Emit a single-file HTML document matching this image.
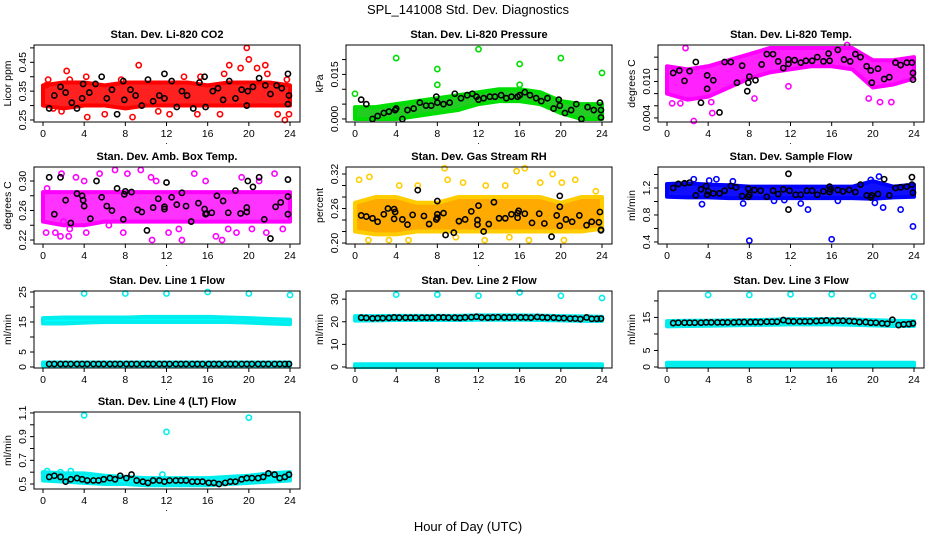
<!DOCTYPE html>
<html><head><meta charset="utf-8">
<style>
html,body{margin:0;padding:0;background:#fff;}
svg{display:block;font-family:"Liberation Sans",sans-serif;}
</style></head>
<body>
<svg id="chart" width="936" height="540" viewBox="0 0 936 540" xmlns="http://www.w3.org/2000/svg">
<rect x="0" y="0" width="936" height="540" fill="#fff"/>
<text x="468" y="14" font-size="13" text-anchor="middle">SPL_141008  Std. Dev. Diagnostics</text>
<text x="468" y="531" font-size="13" text-anchor="middle">Hour of Day (UTC)</text>
</svg>
<script>
const bandHours=[0,2,4,6,8,10,12,14,16,18,20,22,24];
const regT=[0.6,1.1,1.7,2.2,2.7,3.3,3.8,4.3,4.9,5.4,5.9,6.5,7.0,7.5,8.1,8.6,9.1,9.7,10.2,10.7,11.3,11.8,12.3,12.9,13.4,13.9,14.5,15.0,15.5,16.1,16.6,17.1,17.7,18.2,18.7,19.3,19.8,20.3,20.9,21.4,21.9,22.5,23.0,23.5,23.9];
const xTicks=[0,4,8,12,16,20,24];

// P1 CO2
const p1Lo=[0.30,0.29,0.30,0.30,0.29,0.30,0.30,0.30,0.30,0.30,0.30,0.30,0.30];
const p1Hi=[0.37,0.38,0.38,0.37,0.38,0.38,0.38,0.38,0.37,0.38,0.38,0.38,0.37];
const p1OutX=[0.3,0.5,1,1.8,2.3,2.6,4.2,4.3,6,7.6,8.7,9.3,11.2,12.3,13.7,15,15.3,17.2,17.6,18.1,19.2,19.8,20,20.8,21.6,21.8,22.8,23.5,23.9,23.7];
const p1OutY=[0.37,0.39,0.29,0.28,0.42,0.39,0.40,0.26,0.27,0.39,0.26,0.44,0.28,0.27,0.40,0.27,0.40,0.27,0.41,0.44,0.43,0.50,0.46,0.43,0.44,0.41,0.27,0.25,0.27,0.39];
const p1BlkX=[0.6,1.1,1.7,2.2,2.8,3.3,3.8,3.9,4.5,5.1,5.7,6.2,6.7,7.2,7.8,7.9,8.5,9.0,9.6,10.2,10.7,11.3,11.8,11.8,12.5,13,13.5,14,14.6,15.2,15.7,15.8,16.5,17,17.5,18.1,18.7,19.3,19.8,19.9,20.4,21,21.6,22.1,22.7,23.2,23.8,23.9,23.8];
const p1BlkY=[0.29,0.335,0.365,0.345,0.31,0.29,0.325,0.375,0.345,0.375,0.40,0.325,0.355,0.27,0.385,0.32,0.355,0.335,0.30,0.39,0.315,0.335,0.41,0.325,0.385,0.295,0.35,0.335,0.29,0.38,0.40,0.295,0.35,0.36,0.32,0.385,0.325,0.355,0.30,0.35,0.365,0.395,0.37,0.34,0.37,0.36,0.41,0.335,0.305];

// P2 Pressure
const p2Lo=[0.0,0.0,0.0,0.001,0.002,0.003,0.005,0.006,0.006,0.005,0.002,0.0,0.0];
const p2Hi=[0.004,0.004,0.005,0.006,0.007,0.008,0.009,0.010,0.010,0.009,0.006,0.005,0.005];
const p2OutX=[0,4,8,8,12,16,16,20,24];
const p2OutY=[0.0085,0.0205,0.0168,0.0115,0.0235,0.0185,0.0115,0.0205,0.0155];
const p2BlkX=[0.6,1.1,1.7,2.2,2.8,3.3,3.9,4,4.6,5.1,5.7,6.3,6.9,7.4,7.9,8,8.6,9.2,9.7,10.3,10.9,11.4,11.8,12,12.5,13.1,13.6,14.2,14.7,15.2,15.8,16,16.5,17,17.6,18.1,18.7,19.3,19.8,19.9,20.4,21,21.5,22,22.6,23.2,23.8,23.9,23.9];
const p2BlkY=[0.0065,0.005,0,0.001,0.002,0.0025,0.003,0.0035,0,0.003,0.0035,0.0055,0.0045,0.0045,0.0075,0.0055,0.005,0.0055,0.0085,0.007,0.008,0.0085,0.0075,0.0065,0.007,0.0075,0.0075,0.008,0.007,0.0075,0.0075,0.008,0.009,0.008,0.007,0.006,0.007,0.0035,0.0065,0.0045,0.002,0.003,0.005,0,0.004,0.003,0.0055,0.003,0.0005];

// P3 Li-820 Temp
const p3Lo=[0.008,0.007,0.0075,0.009,0.0105,0.0115,0.012,0.0125,0.0125,0.012,0.009,0.0095,0.0105];
const p3Hi=[0.0125,0.012,0.0125,0.0135,0.0145,0.0155,0.0155,0.0155,0.0155,0.0155,0.0135,0.0135,0.014];
const p3OutX=[0.5,1.3,1.8,2.6,4.3,4.4,8.5,11.8,19.6,20.7,21.8,17.5];
const p3OutY=[0.0064,0.0064,0.0155,0.0035,0.0066,0.0048,0.0072,0.0092,0.0072,0.0066,0.0066,0.016];
const p3BlkX=[0.6,1.2,1.7,2.2,2.8,3.3,3.9,3.9,4.5,5.1,5.6,6.2,6.8,7.3,7.8,7.9,8.0,8.6,9.2,9.7,10.3,10.8,11.3,11.8,11.8,12.4,13,13.5,14.1,14.6,15.2,15.7,15.8,16.6,17.2,17.8,18.3,18.8,19.4,19.8,19.9,20.5,21.1,21.6,22.2,22.7,23.3,23.8,23.9,23.9];
const p3BlkY=[0.0114,0.0118,0.0101,0.0117,0.0132,0.0065,0.0088,0.011,0.0102,0.0049,0.0132,0.0132,0.0098,0.0126,0.0084,0.0098,0.0108,0.0102,0.0128,0.0145,0.0145,0.0133,0.0122,0.0136,0.0129,0.0135,0.0131,0.0134,0.0134,0.014,0.0133,0.0146,0.0134,0.0152,0.0136,0.0133,0.0145,0.014,0.0125,0.0118,0.0098,0.0121,0.0104,0.0107,0.0131,0.0127,0.0131,0.0131,0.0114,0.0103];

// P4 Amb Box Temp
const p4Lo=[0.245,0.24,0.24,0.245,0.245,0.245,0.245,0.245,0.245,0.245,0.245,0.245,0.245];
const p4Hi=[0.285,0.285,0.285,0.285,0.285,0.285,0.285,0.285,0.285,0.285,0.285,0.285,0.285];
const p4OutX=[0.3,1.2,1.7,2.5,2.6,3.2,4.2,5.5,6.4,7.0,7.8,9.5,10.6,10.5,12.2,13.5,14.7,15.8,16.8,17.4,18.0,19.3,20.3,21.7,22.5,23.3,1.8,8.2,0.4,11.0,2.0,13.2,18.8,4.0,21.0];
const p4OutY=[0.23,0.23,0.225,0.225,0.235,0.305,0.23,0.31,0.24,0.315,0.23,0.315,0.22,0.305,0.23,0.22,0.31,0.30,0.225,0.22,0.235,0.305,0.235,0.23,0.31,0.235,0.31,0.31,0.29,0.30,0.245,0.235,0.23,0.30,0.30];
const p4BlkX=[0.6,1.1,1.7,2.2,2.7,3.3,3.8,3.9,4.0,4.6,5.2,5.7,6.2,6.7,7.2,7.8,7.9,8.0,8.6,9.2,9.6,10.1,10.7,11.2,11.8,11.8,12.0,12.5,13,13.5,13.9,14.4,15.1,15.7,15.8,15.9,16.4,16.9,17.5,18.0,18.7,19.2,19.8,19.8,19.9,20.4,21.0,21.5,22.1,22.6,23.1,23.8,23.8,23.8];
const p4BlkY=[0.305,0.255,0.305,0.274,0.243,0.283,0.28,0.274,0.266,0.249,0.30,0.278,0.266,0.26,0.29,0.248,0.282,0.286,0.285,0.261,0.258,0.233,0.264,0.276,0.262,0.265,0.298,0.278,0.268,0.284,0.266,0.245,0.27,0.262,0.255,0.256,0.257,0.28,0.273,0.257,0.287,0.256,0.258,0.264,0.30,0.292,0.305,0.248,0.222,0.265,0.271,0.302,0.279,0.255];

// P5 Gas Stream RH
const p5Lo=[0.22,0.215,0.215,0.22,0.22,0.22,0.22,0.22,0.22,0.22,0.22,0.22,0.225];
const p5Hi=[0.27,0.28,0.28,0.27,0.27,0.28,0.28,0.28,0.28,0.28,0.27,0.28,0.28];
const p5OutX=[0.4,1.4,4.3,6.1,8.7,9.0,10.5,12.7,14.6,15.7,16.5,18.0,19.2,20.1,21.4,23.4,1.3,3.3,5.2,9.8,12.6,16.9,20.3,15.0];
const p5OutY=[0.31,0.315,0.30,0.30,0.33,0.31,0.305,0.30,0.30,0.325,0.33,0.305,0.32,0.305,0.31,0.29,0.205,0.205,0.205,0.21,0.205,0.205,0.205,0.21];
const p5BlkX=[0.6,1.1,1.7,2.2,2.8,3.2,3.8,3.8,3.9,4.6,5.1,5.6,6.1,6.7,7.2,7.9,8.0,8.0,8.0,8.6,8.8,9.6,10.1,10.7,11.3,11.9,11.9,12.0,12.5,13.0,13.5,14.0,14.6,15.2,15.8,15.8,15.9,16.5,17.2,17.9,18.4,19.1,19.6,19.9,19.9,19.9,20.5,21.1,21.8,22.5,23.0,23.7,23.8,23.9,23.9];
const p5BlkY=[0.248,0.246,0.243,0.237,0.25,0.26,0.259,0.242,0.254,0.241,0.232,0.249,0.292,0.247,0.233,0.241,0.244,0.25,0.273,0.252,0.214,0.218,0.238,0.241,0.255,0.232,0.24,0.265,0.22,0.233,0.271,0.243,0.243,0.25,0.244,0.252,0.256,0.251,0.235,0.251,0.234,0.211,0.248,0.23,0.263,0.282,0.241,0.237,0.248,0.231,0.237,0.236,0.254,0.223,0.222];

// P6 Sample Flow
const p6Lo=[1.07,1.06,1.06,1.05,1.05,1.05,1.05,1.05,1.05,1.05,1.04,1.06,1.07];
const p6Hi=[1.26,1.27,1.25,1.24,1.22,1.22,1.22,1.22,1.22,1.22,1.30,1.22,1.25];
const p6OutX=[2.6,4.8,3.4,7.4,8,10.4,11.4,13.0,13.7,16,16.6,19.8,20.6,21.0,22.7,23.9,20.2,6.4,4.1];
const p6OutY=[1.33,1.33,0.96,0.97,0.42,1.01,1.02,0.97,0.88,0.44,1.01,1.32,1.37,0.91,0.88,0.63,0.98,1.3,1.31];
const p6BlkX=[0.6,1.1,1.7,2.2,2.8,3.3,3.8,3.9,4.0,4.5,5.1,5.6,6.2,6.7,7.3,7.9,7.9,8.0,8.5,9.1,9.7,10.3,10.8,11.3,11.8,11.8,11.9,12.5,13.0,13.6,14.1,14.6,15.2,15.8,15.8,15.9,16.6,17.1,17.7,18.3,18.8,19.4,19.8,19.9,20.5,21.1,21.6,22.2,22.7,23.3,23.8,23.8,23.9];
const p6BlkY=[1.2,1.26,1.27,1.28,1.09,1.18,1.23,1.1,1.15,1.12,1.12,1.16,1.23,1.21,1.08,1.19,1.07,1.1,1.17,1.16,1.07,1.16,1.11,1.18,1.41,0.88,1.16,1.1,1.1,1.16,1.16,1.1,1.15,1.22,1.14,1.18,1.17,1.15,1.17,1.14,1.25,1.09,1.06,1.09,1.11,1.33,1.09,1.2,1.21,1.22,1.36,1.25,1.13];

// P7 Line 1 Flow
const p7Lo=[14.5,14.5,14.8,15,15,15,15,15,15,15,14.8,14.5,14.3];
const p7Hi=[16.3,16.5,16.5,16.5,16.5,16.7,16.7,16.7,16.7,16.5,16.3,16,15.8];
const p7Lo2=[0.4,0.4,0.4,0.4,0.4,0.4,0.4,0.4,0.4,0.4,0.4,0.4,0.4];
const p7Hi2=[1.5,1.5,1.5,1.5,1.5,1.5,1.5,1.5,1.5,1.5,1.5,1.5,1.5];
const p7OutX=[4,8,12,16,20,24];
const p7OutY=[24.5,24.5,24.5,25,24.5,24];
const p7BlkY=[1,1,1,1,1,1,1,1,1,1,1,1,1,1,1,1,1,1,1,1,1,1,1,1,1,1,1,1,1,1,1,1,1,1,1,1,1,1,1,1,1,1,1,1,1];

// P8 Line 2 Flow
const p8Lo=[20.5,20.6,20.8,20.8,20.8,20.8,20.9,20.9,20.9,20.8,20.6,20.4,20.4];
const p8Hi=[22.5,22.5,22.6,22.6,22.6,22.6,22.8,22.8,22.8,22.7,22.5,22.4,22.2];
const p8Lo2=[0,0,0,0,0,0,0,0,0,0,0,0,0];
const p8Hi2=[1.2,1.2,1.2,1.2,1.2,1.2,1.2,1.2,1.2,1.2,1.2,1.2,1.2];
const p8OutX=[4,8,12,16,20,24];
const p8OutY=[32,32,31.5,33,31.5,30.5];
const p8BlkY=[21.8,21.7,21.5,21.6,21.6,21.7,21.9,21.8,21.8,21.8,21.8,21.8,21.8,21.8,21.9,21.9,21.8,21.8,21.7,21.9,22.0,22.2,21.9,21.8,21.9,22.0,21.9,21.9,22.0,21.9,21.9,21.8,22.1,21.9,21.8,21.8,21.6,21.6,21.4,21.4,21.2,21.9,21.3,21.3,21.4];

// P9 Line 3 Flow
const p9Lo=[12.3,12.4,12.5,12.6,12.7,12.8,12.9,12.9,12.9,12.8,12.6,12.4,12.4];
const p9Hi=[13.9,14.0,14.0,14.1,14.2,14.3,14.5,14.5,14.5,14.4,14.2,14.0,13.9];
const p9Lo2=[0.3,0.3,0.3,0.3,0.3,0.3,0.3,0.3,0.3,0.3,0.3,0.3,0.3];
const p9Hi2=[1.3,1.3,1.3,1.3,1.3,1.3,1.3,1.3,1.3,1.3,1.3,1.3,1.3];
const p9OutX=[4,8,12,16,20,24];
const p9OutY=[21.8,21.8,22,22,21.6,21.3];
const p9BlkY=[13.3,13.4,13.4,13.4,13.4,13.4,13.5,13.5,13.5,13.5,13.5,13.5,13.6,13.6,13.6,13.6,13.6,13.7,13.7,13.7,14.2,13.9,13.8,13.8,13.8,13.8,13.9,14.0,14.1,13.9,14.0,14.0,13.9,13.8,13.6,13.6,13.4,13.4,13.2,13.1,14.3,12.7,12.9,13.0,13.2];

// P10 Line 4 (LT) Flow
const p10Lo=[0.53,0.52,0.51,0.50,0.50,0.49,0.49,0.49,0.49,0.50,0.51,0.52,0.53];
const p10Hi=[0.60,0.59,0.59,0.57,0.56,0.55,0.55,0.55,0.55,0.56,0.57,0.59,0.60];
const p10OutX=[4,12,20,0.4,2.7,1.7,11.6];
const p10OutY=[1.08,0.94,1.06,0.61,0.61,0.60,0.58];
const p10BlkY=[0.56,0.57,0.56,0.52,0.54,0.55,0.54,0.53,0.53,0.53,0.54,0.55,0.54,0.57,0.55,0.58,0.53,0.52,0.51,0.53,0.53,0.52,0.53,0.53,0.53,0.53,0.52,0.52,0.52,0.51,0.51,0.50,0.51,0.52,0.52,0.54,0.55,0.55,0.55,0.56,0.59,0.58,0.55,0.56,0.58];

// Y tick values and labels per panel
const p1Ticks=[0.25,0.30,0.35,0.40,0.45,0.50]; const p1Labels=["0.25","","0.35","","0.45",""];
const p2Ticks=[0,0.005,0.010,0.015,0.020]; const p2Labels=["0.000","","","0.015",""];
const p3Ticks=[0.004,0.006,0.008,0.010,0.012,0.014]; const p3Labels=["0.004","","","0.010","",""];
const p4Ticks=[0.22,0.24,0.26,0.28,0.30]; const p4Labels=["0.22","","0.26","","0.30"];
const p5Ticks=[0.20,0.22,0.24,0.26,0.28,0.30,0.32]; const p5Labels=["0.20","","","0.26","","","0.32"];
const p6Ticks=[0.4,0.6,0.8,1.0,1.2,1.4]; const p6Labels=["0.4","","0.8","","1.2",""];
const p7Ticks=[0,5,10,15,20,25]; const p7Labels=["0","5","","15","","25"];
const p8Ticks=[0,10,20,30]; const p8Labels=["0","10","20","30"];
const p9Ticks=[0,5,10,15,20]; const p9Labels=["0","5","","15",""];
const p10Ticks=[0.5,0.6,0.7,0.8,0.9,1.0,1.1]; const p10Labels=["0.5","","0.7","","0.9","","1.1"];

const NS="http://www.w3.org/2000/svg";
const svg=document.getElementById('chart');
function mk(tag,attrs,parent){const e=document.createElementNS(NS,tag);for(const k in attrs)e.setAttribute(k,attrs[k]);(parent||svg).appendChild(e);return e;}

const panels=[
 {id:'co2',title:'Stan. Dev. Li-820 CO2',ylab:'Licor ppm',L:34,T:45,yd:[0.243,0.51],ticks:p1Ticks,labels:p1Labels,color:'#ff0000',fill:'#ff2020',bands:[[p1Lo,p1Hi]],ox:p1OutX,oy:p1OutY,bx:p1BlkX,by:p1BlkY},
 {id:'pressure',title:'Stan. Dev. Li-820 Pressure',ylab:'kPa',L:346,T:45,yd:[-0.00102,0.0249],ticks:p2Ticks,labels:p2Labels,color:'#00dd00',fill:'#22cc22',bands:[[p2Lo,p2Hi]],ox:p2OutX,oy:p2OutY,bx:p2BlkX,by:p2BlkY},
 {id:'licor-temp',title:'Stan. Dev. Li-820 Temp.',ylab:'degrees C',L:658,T:45,yd:[0.00333,0.016],ticks:p3Ticks,labels:p3Labels,color:'#ff00ff',fill:'#ff22ff',bands:[[p3Lo,p3Hi]],ox:p3OutX,oy:p3OutY,bx:p3BlkX,by:p3BlkY},
 {id:'amb-box-temp',title:'Stan. Dev. Amb. Box Temp.',ylab:'degrees C',L:34,T:167,yd:[0.2146,0.319],ticks:p4Ticks,labels:p4Labels,color:'#ff00ff',fill:'#ff33ff',bands:[[p4Lo,p4Hi]],ox:p4OutX,oy:p4OutY,bx:p4BlkX,by:p4BlkY},
 {id:'gas-rh',title:'Stan. Dev. Gas Stream RH',ylab:'percent',L:346,T:167,yd:[0.1983,0.3322],ticks:p5Ticks,labels:p5Labels,color:'#ffcc00',fill:'#ffaa00',bands:[[p5Lo,p5Hi]],ox:p5OutX,oy:p5OutY,bx:p5BlkX,by:p5BlkY},
 {id:'sample-flow',title:'Stan. Dev. Sample Flow',ylab:'ml/min',L:658,T:167,yd:[0.37,1.511],ticks:p6Ticks,labels:p6Labels,color:'#0000ff',fill:'#1010ff',bands:[[p6Lo,p6Hi]],ox:p6OutX,oy:p6OutY,bx:p6BlkX,by:p6BlkY},
 {id:'line1-flow',title:'Stan. Dev. Line 1 Flow',ylab:'ml/min',L:34,T:291,yd:[-0.34,25.34],ticks:p7Ticks,labels:p7Labels,color:'#00eeee',fill:'#00ffff',bands:[[p7Lo,p7Hi],[p7Lo2,p7Hi2]],ox:p7OutX,oy:p7OutY,bx:regT,by:p7BlkY},
 {id:'line2-flow',title:'Stan. Dev. Line 2 Flow',ylab:'ml/min',L:346,T:291,yd:[-0.45,33.6],ticks:p8Ticks,labels:p8Labels,color:'#00eeee',fill:'#00ffff',bands:[[p8Lo,p8Hi],[p8Lo2,p8Hi2]],ox:p8OutX,oy:p8OutY,bx:regT,by:p8BlkY},
 {id:'line3-flow',title:'Stan. Dev. Line 3 Flow',ylab:'ml/min',L:658,T:291,yd:[-0.3,23.0],ticks:p9Ticks,labels:p9Labels,color:'#00eeee',fill:'#00ffff',bands:[[p9Lo,p9Hi],[p9Lo2,p9Hi2]],ox:p9OutX,oy:p9OutY,bx:regT,by:p9BlkY},
 {id:'line4-flow',title:'Stan. Dev. Line 4 (LT) Flow',ylab:'ml/min',L:34,T:412,yd:[0.458,1.108],ticks:p10Ticks,labels:p10Labels,color:'#00eeee',fill:'#00ffff',bands:[[p10Lo,p10Hi]],ox:p10OutX,oy:p10OutY,bx:regT,by:p10BlkY}
];

const W=266,H=77;
panels.forEach(p=>{
  const g=mk('g',{});
  
  
  const xs=v=>p.L+9+(v/24)*247;
  const ys=v=>p.T+H-(v-p.yd[0])/(p.yd[1]-p.yd[0])*H;
  // bands
  p.bands.forEach(b=>{
    const lo=b[0],hi=b[1];
    let pts=[];
    bandHours.forEach((h,i)=>pts.push(xs(h)+','+ys(hi[i])));
    for(let i=bandHours.length-1;i>=0;i--)pts.push(xs(bandHours[i])+','+ys(lo[i]));
    const poly=mk('polygon',{points:pts.join(' '),fill:p.fill,stroke:p.color,'stroke-width':4,'stroke-linejoin':'round'},g);
    
    
  });
  // colored outliers
  p.ox.forEach((x,i)=>{
    const c=mk('circle',{cx:xs(x),cy:ys(p.oy[i]),r:2.6,fill:'none',stroke:p.color,'stroke-width':1.6},g);
    
    
  });
  // black points
  p.bx.forEach((x,i)=>{
    const c=mk('circle',{cx:xs(x),cy:ys(p.by[i]),r:2.6,fill:'none',stroke:'#000','stroke-width':1.6},g);
    
    
  });
  // box
  const box=mk('rect',{x:p.L,y:p.T,width:W,height:H,fill:'none',stroke:'#000','stroke-width':1},g);
  
  
  // x axis
  const B=p.T+H;
  mk('line',{x1:xs(0),x2:xs(24),y1:B,y2:B,stroke:'#000'},g);
  xTicks.forEach(t=>{
    mk('line',{x1:xs(t),x2:xs(t),y1:B,y2:B+4,stroke:'#000'},g);
    const tx=mk('text',{x:xs(t),y:B+15,'font-size':10.5,'text-anchor':'middle'},g);
    tx.textContent=t;
    
    
  });
  const dot=mk('text',{x:xs(12),y:B+22,'font-size':9,'text-anchor':'middle'},g);
  dot.textContent='.';
  // y axis
  p.ticks.forEach((t,i)=>{
    const y=ys(t);
    mk('line',{x1:p.L-4,x2:p.L,y1:y,y2:y,stroke:'#000'},g);
    if(p.labels[i]){
      const tx=mk('text',{x:0,y:0,'font-size':10.5,'text-anchor':'middle',transform:'translate('+(p.L-8)+','+y+') rotate(-90)'},g);
      tx.textContent=p.labels[i];
      
      
    }
  });
  const yl=mk('text',{x:0,y:0,'font-size':10.5,'text-anchor':'middle',transform:'translate('+(p.L-23)+','+(p.T+H/2)+') rotate(-90)'},g);
  yl.textContent=p.ylab;
  
  
  const tt=mk('text',{x:p.L+W/2,y:p.T-7,'font-size':11,'font-weight':'bold','text-anchor':'middle'},g);
  tt.textContent=p.title;
  
  
});
</script>
</body></html>
